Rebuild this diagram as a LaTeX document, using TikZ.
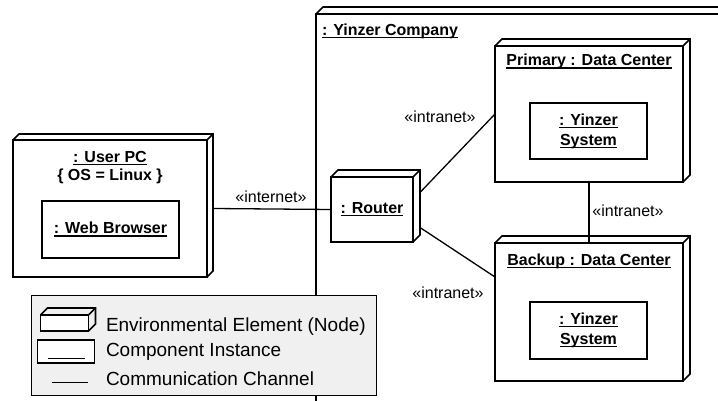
\documentclass[tikz,border=0pt]{standalone}
\usepackage{fontspec}
\setmainfont{Liberation Sans}
\usetikzlibrary{calc}

% underline at a fixed distance below the baseline
\newcommand{\ulx}[1]{\setbox0=\hbox{#1}\leavevmode\rlap{\rule[-2.6pt]{\wd0}{1.1pt}}\box0}

% 3D extrusion of a node box: #1 node name, #2 depth
\newcommand{\extrude}[2]{%
  \draw[boxline] (#1.north west) -- ++(#2,-#2) -- ($(#1.north east)+(#2,-#2)$)
    -- ($(#1.south east)+(#2,-#2)$) -- (#1.south east);
  \draw[boxline] (#1.north east) -- ++(#2,-#2);}

\tikzset{
  txt/.style={font=\fontsize{16}{20}\selectfont, inner sep=0pt, outer sep=0pt},
  boxline/.style={line width=1.6pt, line join=miter},
  nodebox/.style={draw, boxline, fill=white, anchor=north west, inner sep=0pt, outer sep=0pt},
  compbox/.style={nodebox, txt, align=center, font=\fontsize{16}{20}\selectfont\bfseries},
  title/.style={txt, font=\fontsize{16}{20}\selectfont\bfseries, anchor=base},
  stereo/.style={txt},
  channel/.style={line width=1.3pt},
  legendbox/.style={draw, line width=0.8pt, fill=gray!12, anchor=north west, inner sep=0pt, outer sep=0pt},
  legendtext/.style={txt, font=\fontsize{19}{23}\selectfont, anchor=base west},
}

\begin{document}
\begin{tikzpicture}[x=1pt, y=-1pt]
\useasboundingbox (0,0) rectangle (718,401);
\clip (0,0) rectangle (718,401);

% organisation node, running past the picture edges
\node[nodebox, minimum width=440pt, minimum height=440pt] (company) at (316,14) {};
\extrude{company}{7}
\node[title, anchor=base west] (companyname) at (322,35.5) {\ulx{: Yinzer Company}};

% user PC
\node[nodebox, minimum width=194pt, minimum height=137pt] (userpc) at (13,140) {};
\extrude{userpc}{6}
\node[title] (userpcname) at (110,162.3) {\ulx{: User PC}};
\node[title] (userpcos) at (110,181) {\{ OS = Linux \}};
\node[compbox, minimum width=137pt, minimum height=57pt] (browser) at (42,201) {\ulx{: Web Browser}};

% router
\node[compbox, minimum width=82pt, minimum height=65pt] (router) at (331,177) {\ulx{: Router}};
\extrude{router}{7}

% primary data center
\node[nodebox, minimum width=188pt, minimum height=136pt] (primary) at (495,46) {};
\extrude{primary}{7}
\node[title] (primaryname) at (589,66) {\ulx{Primary : Data Center}};
\node[compbox, minimum width=117pt, minimum height=56pt] (system1) at (530,103) {\ulx{: Yinzer}\\\ulx{System}};

% backup data center
\node[nodebox, minimum width=188pt, minimum height=138pt] (backup) at (495,243) {};
\extrude{backup}{7}
\node[title] (backupname) at (589,265.5) {\ulx{Backup : Data Center}};
\node[compbox, minimum width=117pt, minimum height=57pt] (system2) at (530,302) {\ulx{: Yinzer}\\\ulx{System}};

% communication channels
\draw[channel] ([shift={(6,0)}]userpc.east) -- (router.west);
\draw[channel] ([shift={(7,-17)}]router.east) -- (primary.west);
\draw[channel] ([shift={(7,18)}]router.east) -- ([shift={(0,34)}]backup.north west);
\draw[channel] (primary.south) -- (backup.north);

\node[stereo] (lblinternet) at (271,197) {«internet»};
\node[stereo] (lblintra1) at (440,117) {«intranet»};
\node[stereo] (lblintra2) at (628,211) {«intranet»};
\node[stereo] (lblintra3) at (448,293) {«intranet»};

% legend
\node[legendbox, minimum width=345pt, minimum height=100pt] (legend) at (31,295) {};
\node[nodebox, minimum width=48pt, minimum height=16pt] (keynode) at (40.5,315) {};
\extrude{keynode}{7}
\node[nodebox, line width=1.3pt, minimum width=57pt, minimum height=23pt] (keycomp) at (37.3,340) {};
\draw[line width=0.9pt] ([shift={(11,-4.5)}]keycomp.south west) -- ([shift={(-9,-4.5)}]keycomp.south east);
\coordinate (keychanA) at (51.7,382.3);
\coordinate (keychanB) at (88.3,382.3);
\draw[line width=1.2pt] (keychanA) -- (keychanB);
\node[legendtext] (keynodetext) at (106,331) {Environmental Element (Node)};
\node[legendtext] (keycomptext) at (106,356.5) {Component Instance};
\node[legendtext] (keychantext) at (106,385) {Communication Channel};
\end{tikzpicture}
\end{document}
